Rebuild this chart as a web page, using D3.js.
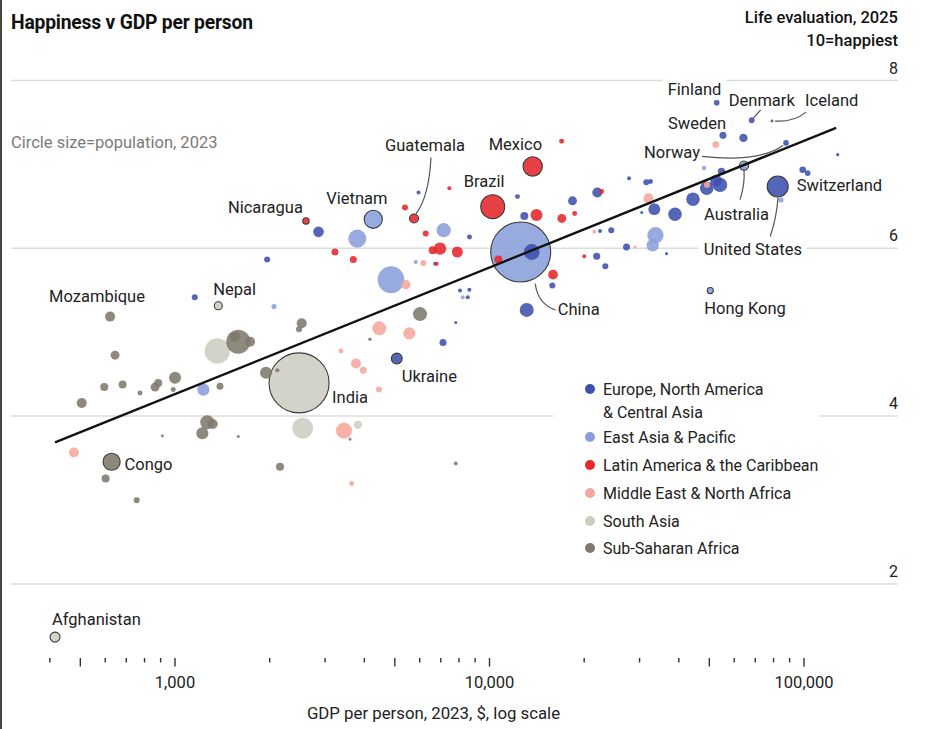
<!DOCTYPE html>
<html><head><meta charset="utf-8">
<script src="https://cdn.jsdelivr.net/npm/d3@7"></script>
<style>
body{margin:0;background:#fff;}
text{font-family:Roboto,"Liberation Sans",sans-serif;}
</style>
</head><body>
<svg id="chart" width="933" height="729"></svg>
<script>
// ---------- DATA ----------
// rows: [country, GDP per person 2023 ($), life evaluation 2025, population 2023 (m)]
const europeNorthAmericaCentralAsia = [
  ["Finland", 52970, 7.73, 5.6], ["Denmark", 68440, 7.52, 6], ["Iceland", 79430, 7.51, 0.4],
  ["Sweden", 55460, 7.34, 10.5], ["", 64420, 7.31, 17], ["Norway", 87990, 7.25, 5.5],
  ["", 128450, 7.11, 0.66], ["Switzerland", 99430, 6.93, 8.8], ["", 103130, 6.89, 5.3],
  ["", 54860, 6.91, 11.8], ["", 54260, 6.75, 65], ["", 49230, 6.71, 55], ["", 44520, 6.58, 55],
  ["", 39030, 6.40, 55], ["", 33540, 6.46, 40], ["", 52700, 6.80, 40],
  ["United States", 82790, 6.73, 150], ["", 31640, 6.78, 6.7], ["", 32620, 6.79, 3.7],
  ["", 27880, 6.83, 1.7], ["", 22100, 6.66, 26.6], ["", 18430, 6.56, 20], ["", 12950, 6.38, 15],
  ["", 12320, 6.61, 3.7], ["", 13670, 5.95, 80], ["", 13180, 5.26, 60], ["", 15900, 5.55, 6.7],
  ["", 22000, 5.90, 10.4], ["", 23440, 5.78, 6.7], ["", 24480, 6.21, 6.7], ["", 22540, 6.20, 1.7],
  ["", 27370, 6.01, 10.4], ["", 36680, 5.93, 0.5], ["", 30590, 6.42, 0.5], ["", 8670, 6.13, 3.7],
  ["", 5970, 6.66, 1.7], ["", 2870, 6.19, 31], ["", 1970, 5.86, 6.7], ["", 1160, 5.41, 6.7],
  ["", 7140, 4.87, 10.4], ["", 7840, 5.11, 0.5], ["", 8090, 5.49, 1.7], ["", 8660, 5.50, 1.7],
  ["", 8560, 5.41, 1.7], ["", 6740, 5.81, 1.7], ["Ukraine", 5090, 4.68, 33]
];
const eastAsiaPacific = [
  ["Vietnam", 4285, 6.34, 108], ["", 3813, 6.11, 108], ["", 7178, 6.21, 62], ["", 4880, 5.62, 255],
  ["", 5850, 5.83, 1.7], ["China", 12614, 5.95, 1400], ["", 33830, 6.15, 85], ["", 33140, 6.03, 45],
  ["", 48260, 6.95, 2.5], ["Australia", 64690, 6.98, 22], ["", 84820, 6.57, 4],
  ["Hong Kong", 50540, 5.49, 7], ["", 1235, 4.31, 45], ["", 2072, 5.30, 4], ["", 8250, 5.41, 1.7]
];
const latinAmericaCaribbean = [
  ["Nicaragua", 2618, 6.32, 8], ["Guatemala", 5774, 6.35, 20], ["Mexico", 13770, 6.97, 125],
  ["Brazil", 10275, 6.49, 200], ["", 5406, 6.48, 6.7], ["", 7479, 6.71, 1.7], ["", 6292, 6.17, 6.7],
  ["", 6986, 5.99, 45], ["", 6622, 5.97, 15], ["", 7930, 5.95, 34], ["", 3237, 5.95, 10.4],
  ["", 3703, 5.86, 10.4], ["", 6820, 5.81, 1.7], ["", 14160, 6.39, 42], ["", 17040, 6.35, 20],
  ["", 18730, 6.41, 3.7], ["", 22800, 6.67, 3.7], ["", 17020, 7.27, 3.7], ["", 15980, 5.68, 25],
  ["", 20090, 5.90, 1.7], ["", 10710, 5.86, 15]
];
const middleEastNorthAfrica = [
  ["", 52620, 7.23, 10], ["", 32150, 6.59, 28], ["", 49340, 6.75, 6.7], ["", 6183, 5.82, 6.7],
  ["", 5446, 5.56, 22], ["", 4479, 5.04, 60], ["", 5580, 4.98, 42], ["", 3383, 4.77, 3.7],
  ["", 3776, 4.62, 26.6], ["", 3983, 4.54, 10.4], ["", 4469, 4.31, 6.7], ["", 3459, 3.82, 82],
  ["", 3659, 3.19, 3.7], ["", 479, 3.56, 26.6], ["", 29160, 6.01, 0.5], ["", 21620, 6.19, 1.7]
];
const southAsia = [
  ["Afghanistan", 417, 1.36, 26.6], ["Nepal", 1378, 5.31, 15], ["India", 2489, 4.39, 1400],
  ["", 1368, 4.77, 225], ["", 2556, 3.85, 150], ["", 3833, 3.89, 15]
];
const subSaharanAfrica = [
  ["Mozambique", 624, 5.18, 26.6], ["Congo", 631, 3.45, 95], ["", 647, 4.72, 20], ["", 1595, 4.88, 201],
  ["", 1739, 4.88, 26.6], ["", 1557, 4.94, 26.6], ["", 2538, 5.10, 26.6], ["", 2488, 5.03, 6.7],
  ["", 6034, 5.21, 60], ["", 1954, 4.51, 42], ["", 2123, 4.54, 1.7], ["", 507, 4.15, 26.6],
  ["", 598, 4.34, 15], ["", 684, 4.37, 15], ["", 777, 4.27, 3.7], ["", 867, 4.34, 20],
  ["", 888, 4.39, 15], ["", 991, 4.31, 3.7], ["", 1004, 4.45, 42], ["", 1395, 4.35, 10.4],
  ["", 1271, 3.92, 60], ["", 1323, 3.90, 26.6], ["", 1226, 3.79, 42], ["", 915, 3.76, 0.5],
  ["", 1595, 3.75, 0.5], ["", 604, 3.25, 15], ["", 2165, 3.39, 15], ["", 758, 2.99, 6.7],
  ["", 7840, 3.43, 1.5], ["", 4183, 4.91, 0.8], ["", 3614, 3.72, 0.5]
];
const regionNames = ["Europe, North America & Central Asia", "East Asia & Pacific",
  "Latin America & the Caribbean", "Middle East & North Africa", "South Asia", "Sub-Saharan Africa"];
const regionSeries = [europeNorthAmericaCentralAsia, eastAsiaPacific, latinAmericaCaribbean,
  middleEastNorthAfrica, southAsia, subSaharanAfrica];
const trendGdp = [417, 127000];
const trendScore = [3.68, 7.43];
const xTickValues = [400,500,600,700,800,900,1000,2000,3000,4000,5000,6000,7000,8000,9000,
  10000,20000,30000,40000,50000,60000,70000,80000,90000,100000];
const xTickLabels = [1000, 10000, 100000];
const xLongTicks = [500, 1000, 5000, 10000, 50000, 100000];
const yTickValues = [2, 4, 6, 8];

// ---------- STYLE ----------
const regionColors = ["#3e50ad", "#8a9fd9", "#e5272b", "#f5a79d", "#cecdc1", "#7e796c"];
const ringed = new Set(["Vietnam","Guatemala","Mexico","Brazil","China","India","Nepal","Congo",
  "Nicaragua","Ukraine","Afghanistan","Australia","United States","Hong Kong"]);
const FS = 16;
// label placement relative to each point (pixels)
const annotations = [
  {name:"Finland", dx:-49, dy:-8, bg:true},
  {name:"Denmark", dx:-23, dy:-15, leader:"M1.5,-2 L9,-10.5"},
  {name:"Iceland", dx:33, dy:-16, leader:"M34,-9 Q22,1 3,0"},
  {name:"Sweden", dx:-55, dy:-7},
  {name:"Norway", dx:-142, dy:15, leader:"M-84,13.5 Q-28,20 -3,2.5"},
  {name:"Mexico", dx:-44, dy:-17},
  {name:"Brazil", dx:-29, dy:-20},
  {name:"Guatemala", dx:-29, dy:-68, leader:"M17,-61 Q15,-22 2,-4.5"},
  {name:"Vietnam", dx:-47, dy:-16},
  {name:"Nicaragua", dx:-3, dy:-8, anchor:"end"},
  {name:"China", dx:37, dy:63, leader:"M35,58 Q17,52 14.5,31.5"},
  {name:"Australia", dx:-40, dy:54, leader:"M-4,34 Q1,19 0,5"},
  {name:"Switzerland", dx:-6, dy:21},
  {name:"United States", dx:-74, dy:68, bg:true, leader:"M-7.5,50 Q-1,31 0.3,11"},
  {name:"Hong Kong", dx:-6, dy:23},
  {name:"Mozambique", dx:-61, dy:-15},
  {name:"Nepal", dx:-5, dy:-11},
  {name:"Ukraine", dx:5, dy:23},
  {name:"India", dx:33, dy:20},
  {name:"Congo", dx:13, dy:8},
  {name:"Afghanistan", dx:-3, dy:-13}
];

// ---------- CHART ----------
const svg = d3.select("#chart");
const x = d3.scaleLog().domain([1000, 100000]).range([174.5, 803.5]);
const y = d3.scaleLinear().domain([2, 8]).range([583.4, 80]);
const r = d3.scaleSqrt().domain([0, 1400]).range([1, 30]);

const points = [];
regionSeries.forEach((rows, i) => rows.forEach(([name, gdp, score, pop]) =>
  points.push({name, gdp, score, pop, region: i})));
points.sort((a, b) => b.pop - a.pop);

svg.append("rect").attr("width", 933).attr("height", 729).attr("fill", "#fff");
svg.append("line").attr("x1", 1).attr("x2", 1).attr("y1", 0).attr("y2", 729)
  .attr("stroke", "#444").attr("stroke-width", 2);

// title & notes
svg.append("text").attr("x", 11).attr("y", 29).attr("font-size", 19.3).attr("font-weight", 700)
  .attr("fill", "#111").attr("letter-spacing", -0.2).text("Happiness v GDP per person");
svg.append("text").attr("x", 898).attr("y", 23).attr("text-anchor", "end").attr("font-size", 16.5)
  .attr("font-weight", 500).attr("fill", "#111").text("Life evaluation, 2025");
svg.append("text").attr("x", 898).attr("y", 46).attr("text-anchor", "end").attr("font-size", 16.5)
  .attr("font-weight", 500).attr("fill", "#111").text("10=happiest");
svg.append("text").attr("x", 11).attr("y", 148).attr("font-size", 16.5).attr("fill", "#7a7a7a")
  .text("Circle size=population, 2023");

// y gridlines
const yAxis = d3.axisLeft(y).tickValues(yTickValues).tickSize(887).tickFormat(d3.format("d"));
const gy = svg.append("g").attr("transform", "translate(898,0)").call(yAxis);
gy.select(".domain").remove();
gy.selectAll(".tick line").attr("stroke", "#dcdcdc").attr("stroke-width", 1.5);
gy.selectAll(".tick text").attr("x", 0).attr("dy", -7).attr("text-anchor", "end")
  .attr("font-size", 16).attr("fill", "#222").attr("font-family", "Roboto, sans-serif");

// legend background (interrupts gridline)
svg.append("rect").attr("x", 553).attr("y", 372).attr("width", 267).attr("height", 190).attr("fill", "#fff");

// x axis
const xAxis = d3.axisBottom(x).tickValues(xTickValues).tickSize(4.5)
  .tickFormat(d => xTickLabels.includes(d) ? d3.format(",")(d) : "");
const gx = svg.append("g").attr("transform", "translate(0,658)").call(xAxis);
gx.select(".domain").remove();
gx.selectAll(".tick line").attr("stroke", "#333").attr("stroke-width", 1.4)
  .attr("y2", d => xLongTicks.includes(d) ? 8.5 : 4.5);
gx.selectAll(".tick text").attr("y", 18).attr("font-size", 16.5).attr("fill", "#222")
  .attr("font-family", "Roboto, sans-serif");
svg.append("text").attr("x", 433.5).attr("y", 719).attr("text-anchor", "middle").attr("font-size", 16.8)
  .attr("fill", "#222").text("GDP per person, 2023, $, log scale");

const byName = new Map(points.filter(p => p.name).map(p => [p.name, p]));

// bubbles
svg.append("g").selectAll("circle").data(points).join("circle")
  .attr("cx", d => x(d.gdp)).attr("cy", d => y(d.score)).attr("r", d => r(d.pop))
  .attr("fill", d => regionColors[d.region]).attr("fill-opacity", 0.88)
  .attr("stroke", d => ringed.has(d.name) ? "#3a3a3a" : "none")
  .attr("stroke-width", d => ringed.has(d.name) ? 1.1 : 0);

// trend line
const line = d3.line().x(d => x(d[0])).y(d => y(d[1]));
svg.append("path").datum(trendGdp.map((g, i) => [g, trendScore[i]])).attr("d", line)
  .attr("fill", "none").attr("stroke", "#111").attr("stroke-width", 2.4);

// annotations
const ga = svg.append("g");
annotations.forEach(a => {
  const p = byName.get(a.name);
  const px = x(p.gdp), py = y(p.score);
  if (a.leader) {
    ga.append("path").attr("transform", `translate(${px},${py})`).attr("d", a.leader)
      .attr("fill", "none").attr("stroke", "#555").attr("stroke-width", 1.2);
  }
  const t = ga.append("text").attr("x", px + a.dx).attr("y", py + a.dy + 0.5)
    .attr("text-anchor", a.anchor || "start").attr("font-size", FS + 0.5).attr("fill", "#222").text(a.name);
  if (a.bg) {
    const b = t.node().getBBox();
    ga.insert("rect", () => t.node()).attr("x", b.x - 5).attr("y", b.y - 1)
      .attr("width", b.width + 10).attr("height", b.height + 2).attr("fill", "#fff");
  }
});

// legend
const legendRows = [
  {lines: ["Europe, North America", "& Central Asia"], cy: 389},
  {lines: ["East Asia & Pacific"], cy: 437},
  {lines: ["Latin America & the Caribbean"], cy: 465},
  {lines: ["Middle East & North Africa"], cy: 493},
  {lines: ["South Asia"], cy: 521},
  {lines: ["Sub-Saharan Africa"], cy: 548}
];
const gl = svg.append("g");
legendRows.forEach((row, i) => {
  gl.append("circle").attr("cx", 590).attr("cy", row.cy).attr("r", 5).attr("fill", regionColors[i]);
  row.lines.forEach((ln, j) => gl.append("text").attr("x", 603).attr("y", row.cy + 5.5 + j * 23)
    .attr("font-size", FS).attr("fill", "#222").text(ln));
});
</script>
</body></html>
